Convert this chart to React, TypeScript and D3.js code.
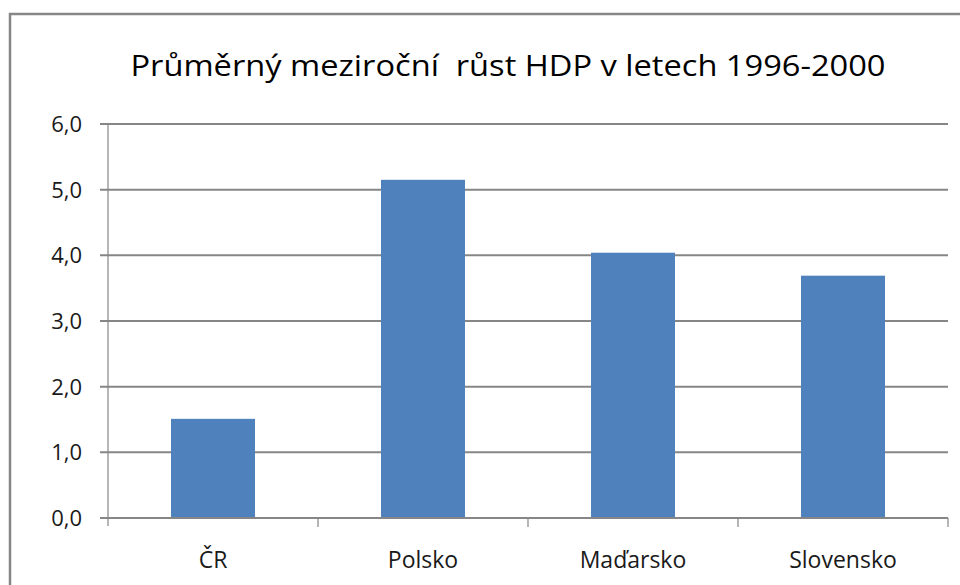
import React, { useEffect, useRef } from 'react';
import * as d3 from 'd3';

const title = 'Průměrný meziroční  růst HDP v letech 1996-2000';
const categories = ['ČR', 'Polsko', 'Maďarsko', 'Slovensko'];
const values = [1.51, 5.15, 4.04, 3.69];
const yTicks = [0, 1, 2, 3, 4, 5, 6];

const width = 960;
const height = 585;
const font = "'Open Sans', 'Noto Sans', sans-serif";

const App: React.FC = () => {
  const svgRef = useRef<SVGSVGElement>(null);

  useEffect(() => {
    if (!svgRef.current) return;
    const svg = d3.select(svgRef.current);
    svg.selectAll('*').remove();

    const plot = { left: 108, right: 948, top: 124, bottom: 518 };

    svg.append('rect')
      .attr('width', width)
      .attr('height', height)
      .attr('fill', '#ffffff');

    // outer chart border
    svg.append('rect')
      .attr('x', 10)
      .attr('y', 14)
      .attr('width', 1000)
      .attr('height', 700)
      .attr('fill', 'none')
      .attr('stroke', '#868686')
      .attr('stroke-width', 2.5);

    const x = d3.scaleBand<string>()
      .domain(categories)
      .range([plot.left, plot.right])
      .paddingInner(0.6)
      .paddingOuter(0.3);

    const slots = d3.scaleBand<string>()
      .domain(categories)
      .range([plot.left, plot.right])
      .padding(0);

    const y = d3.scaleLinear()
      .domain([0, 6])
      .range([plot.bottom, plot.top]);

    // gridlines
    svg.append('g')
      .selectAll('line')
      .data(yTicks)
      .enter().append('line')
      .attr('x1', plot.left - 8)
      .attr('x2', plot.right)
      .attr('y1', d => y(d))
      .attr('y2', d => y(d))
      .attr('stroke', '#868686')
      .attr('stroke-width', 2);

    // bars
    svg.append('g')
      .selectAll('rect')
      .data(values)
      .enter().append('rect')
      .attr('x', (_, i) => x(categories[i])!)
      .attr('width', x.bandwidth())
      .attr('y', d => y(d))
      .attr('height', d => y(0) - y(d))
      .attr('fill', '#4F81BD');

    // baseline over bars
    svg.append('line')
      .attr('x1', plot.left - 8)
      .attr('x2', plot.right)
      .attr('y1', y(0))
      .attr('y2', y(0))
      .attr('stroke', '#868686')
      .attr('stroke-width', 2);

    // y axis line
    svg.append('line')
      .attr('x1', plot.left)
      .attr('x2', plot.left)
      .attr('y1', plot.top)
      .attr('y2', plot.bottom + 8)
      .attr('stroke', '#868686')
      .attr('stroke-width', 1.2);

    // x ticks at category boundaries
    const bounds = categories.map(c => slots(c)! + slots.bandwidth());
    svg.append('g')
      .selectAll('line')
      .data(bounds)
      .enter().append('line')
      .attr('x1', d => d)
      .attr('x2', d => d)
      .attr('y1', y(0))
      .attr('y2', y(0) + 9)
      .attr('stroke', '#868686')
      .attr('stroke-width', 1.2);

    // y labels
    svg.append('g')
      .selectAll('text')
      .data(yTicks)
      .enter().append('text')
      .attr('x', 82)
      .attr('y', d => y(d))
      .attr('dy', '0.36em')
      .attr('text-anchor', 'end')
      .style('font-family', font)
      .style('font-size', '22px')
      .style('fill', '#1a1a1a')
      .text(d => d3.format('.1f')(d).replace('.', ','));

    // category labels
    svg.append('g')
      .selectAll('text')
      .data(categories)
      .enter().append('text')
      .attr('x', d => slots(d)! + slots.bandwidth() / 2)
      .attr('y', 568)
      .attr('text-anchor', 'middle')
      .style('font-family', font)
      .style('font-size', '23px')
      .style('fill', '#1a1a1a')
      .text(d => d);

    // title
    svg.append('text')
      .attr('x', 508)
      .attr('y', 76)
      .attr('text-anchor', 'middle')
      .attr('textLength', 755)
      .attr('lengthAdjust', 'spacingAndGlyphs')
      .style('white-space', 'pre')
      .style('font-family', font)
      .style('font-size', '30px')
      .style('fill', '#000000')
      .text(title);
  }, []);

  return (
    <svg
      ref={svgRef}
      width={width}
      height={height}
      style={{ position: 'absolute', left: 0, top: 0 }}
    />
  );
};

export default App;
